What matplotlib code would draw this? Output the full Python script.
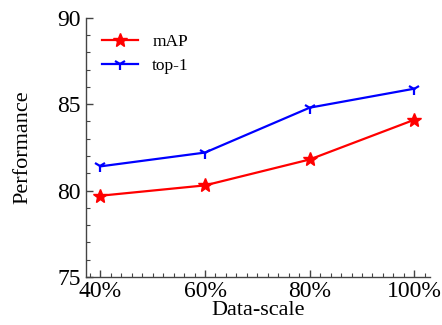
import matplotlib
matplotlib.use("Agg")
import matplotlib.pyplot as plt
from matplotlib.ticker import MultipleLocator

# ===== Data =====
scales = [40, 60, 80, 100]
tick_labels = ["40%", "60%", "80%", "100%"]
map_vals = [79.7, 80.3, 81.8, 84.1]
top1_vals = [81.4, 82.2, 84.8, 85.9]

plt.rcParams["font.family"] = ["Liberation Serif", "DejaVu Serif"]

fig = plt.figure(figsize=(4.42, 3.25), dpi=100)
ax = fig.add_axes([0.195, 0.148, 0.778, 0.797])

ax.plot(scales, map_vals, color="red", linewidth=1.6, marker="*", markersize=10, label="mAP")
ax.plot(scales, top1_vals, color="blue", linewidth=1.6, marker="1", markersize=9,
        markeredgewidth=1.6, label="top-1")

ax.set_xlim(37.3, 103)
ax.set_ylim(75, 90)
ax.set_xticks(scales)
ax.set_xticklabels(tick_labels)
ax.set_yticks([75, 80, 85, 90])
ax.xaxis.set_minor_locator(MultipleLocator(2))
ax.yaxis.set_minor_locator(MultipleLocator(1))

for side in ["top", "right"]:
    ax.spines[side].set_visible(False)
for side in ["left", "bottom"]:
    ax.spines[side].set_color("#444444")
    ax.spines[side].set_linewidth(1.0)

ax.tick_params(which="both", direction="in", colors="#444444", labelcolor="black", labelsize=17)
ax.tick_params(which="major", length=5, width=1.0)
ax.tick_params(which="minor", length=3, width=0.8)
ax.tick_params(axis="x", pad=3)
ax.tick_params(axis="y", pad=4)

ax.set_xlabel("Data-scale", fontsize=16, labelpad=-1)
ax.set_ylabel("Performance", fontsize=16, labelpad=18)

ax.legend(loc="upper left", frameon=False, fontsize=12.5, handlelength=2.1,
          handletextpad=0.8, bbox_to_anchor=(0.0, 1.0), borderaxespad=0.5)

fig.savefig("out.png", dpi=100)
